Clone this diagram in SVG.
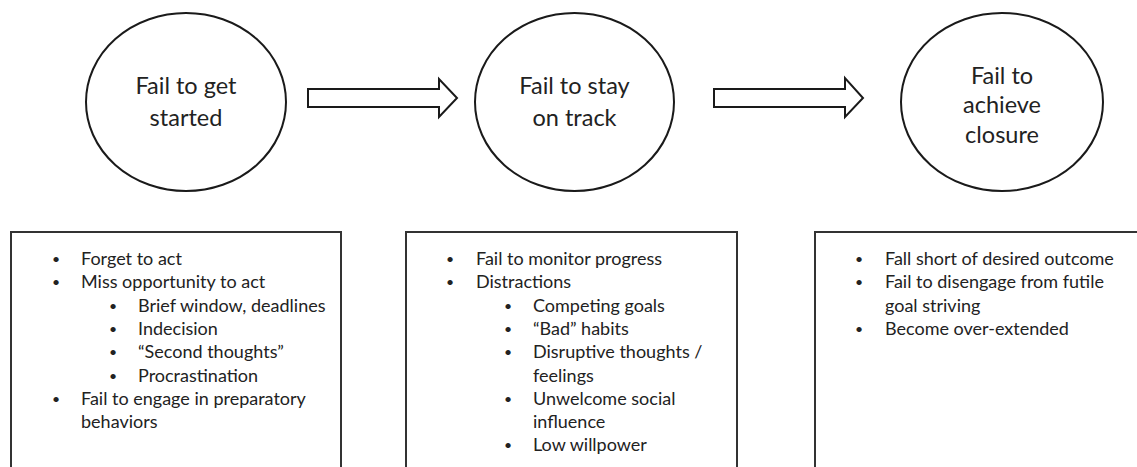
<svg xmlns="http://www.w3.org/2000/svg" width="1137" height="467" viewBox="0 0 1137 467">
<style>
.bg{fill:#ffffff}
.node{fill:#ffffff;stroke:#1a1a1a;stroke-width:2}
.box{fill:#ffffff;stroke:#333333;stroke-width:2}
.arrow{fill:#ffffff;stroke:#1a1a1a;stroke-width:2;stroke-linejoin:miter}
.ct{font-family:Lato,"Liberation Sans",sans-serif;font-size:23.5px;fill:#222222;text-anchor:middle}
.bt{font-family:Lato,"Liberation Sans",sans-serif;font-size:18px;fill:#222222}
.bu{font-family:Lato,"Liberation Sans",sans-serif;font-size:14px;fill:#222222}
</style>
<rect class="bg" x="0" y="0" width="1137" height="467"/>
<g id="connectors">
<polygon class="arrow" points="308,89 439,89 439,79 457,98 439,117 439,107 308,107"/>
<polygon class="arrow" points="714,89 845,89 845,78 863,98 845,117 845,107 714,107"/>
</g>
<g id="node-start">
<ellipse class="node" cx="186" cy="102" rx="100" ry="89"/>
<text class="ct" x="186" y="94">Fail to get</text>
<text class="ct" x="186" y="126">started</text>
</g>
<g id="node-track">
<ellipse class="node" cx="574.5" cy="102" rx="99.5" ry="89"/>
<text class="ct" x="574.5" y="94">Fail to stay</text>
<text class="ct" x="574.5" y="126">on track</text>
</g>
<g id="node-closure">
<ellipse class="node" cx="1002" cy="102" rx="101" ry="89"/>
<text class="ct" x="1002" y="84">Fail to</text>
<text class="ct" x="1002" y="113">achieve</text>
<text class="ct" x="1002" y="143">closure</text>
</g>
<g id="box-start">
<rect class="box" x="11" y="232" width="330" height="250"/>
<g class="bu">
<text x="52" y="264">•</text><text x="52" y="287">•</text>
<text x="109" y="311">•</text><text x="109" y="334">•</text><text x="109" y="357">•</text><text x="109" y="381">•</text>
<text x="52" y="404">•</text>
</g>
<g class="bt">
<text x="81" y="265">Forget to act</text>
<text x="81" y="288">Miss opportunity to act</text>
<text x="138" y="312">Brief window, deadlines</text>
<text x="138" y="335">Indecision</text>
<text x="138" y="358">“Second thoughts”</text>
<text x="138" y="382">Procrastination</text>
<text x="81" y="405">Fail to engage in preparatory</text>
<text x="81" y="428">behaviors</text>
</g>
</g>
<g id="box-track">
<rect class="box" x="406" y="232" width="331" height="250"/>
<g class="bu">
<text x="446" y="264">•</text><text x="446" y="287">•</text>
<text x="504" y="311">•</text><text x="504" y="334">•</text><text x="504" y="357">•</text><text x="504" y="404">•</text><text x="504" y="450">•</text>
</g>
<g class="bt">
<text x="476" y="265">Fail to monitor progress</text>
<text x="476" y="288">Distractions</text>
<text x="533" y="312">Competing goals</text>
<text x="533" y="335">“Bad” habits</text>
<text x="533" y="358">Disruptive thoughts /</text>
<text x="533" y="382">feelings</text>
<text x="533" y="405">Unwelcome social</text>
<text x="533" y="428">influence</text>
<text x="533" y="451">Low willpower</text>
</g>
</g>
<g id="box-closure">
<rect class="box" x="815" y="232" width="340" height="250"/>
<g class="bu">
<text x="855" y="264">•</text><text x="855" y="287">•</text><text x="855" y="334">•</text>
</g>
<g class="bt">
<text x="885" y="265">Fall short of desired outcome</text>
<text x="885" y="288">Fail to disengage from futile</text>
<text x="885" y="312">goal striving</text>
<text x="885" y="335">Become over-extended</text>
</g>
</g>
</svg>
